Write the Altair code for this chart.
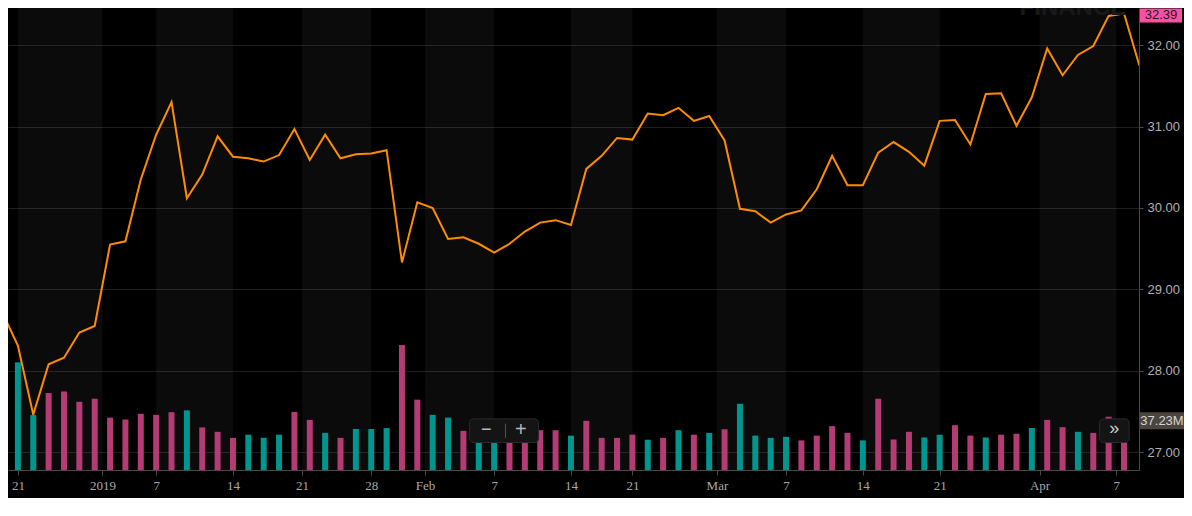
import json
import altair as alt
import pandas as pd

# ---------------- data ----------------
price_idx = list(range(-1, 74))
price = [28.71,
         28.31, 27.46, 28.08, 28.16, 28.47, 28.55, 29.55, 29.59, 30.35, 30.90,
         31.30, 30.12, 30.41, 30.88, 30.63, 30.61, 30.57, 30.65, 30.97, 30.59,
         30.90, 30.61, 30.66, 30.67, 30.71, 29.33, 30.07, 30.00, 29.62, 29.64,
         29.56, 29.45, 29.56, 29.71, 29.82, 29.85, 29.79, 30.48, 30.64, 30.86,
         30.84, 31.16, 31.14, 31.23, 31.07, 31.13, 30.83, 29.99, 29.96, 29.82,
         29.92, 29.97, 30.23, 30.64, 30.28, 30.28, 30.68, 30.81, 30.69, 30.52,
         31.07, 31.08, 30.78, 31.40, 31.41, 31.01, 31.36, 31.96, 31.63, 31.88,
         31.99, 32.36, 32.39, 31.75]

vol_idx = list(range(0, 73))
volume = [81.4, 41.5, 58.2, 59.4, 51.6, 53.9, 39.6, 38.2, 42.5, 41.7,
          43.7, 45.1, 32.2, 28.9, 24.3, 26.7, 24.3, 26.7, 43.9, 37.9,
          28.1, 24.3, 31.0, 31.0, 31.7, 94.5, 53.2, 41.7, 39.6, 29.6,
          26.0, 25.0, 27.0, 29.0, 30.1, 30.1, 26.0, 37.2, 24.3, 24.3,
          26.7, 22.9, 24.3, 30.1, 26.7, 28.1, 30.8, 50.1, 26.0, 24.3,
          25.1, 22.4, 26.0, 33.2, 28.1, 22.4, 53.9, 23.1, 28.9, 24.6,
          26.7, 33.9, 26.0, 24.6, 26.7, 27.4, 31.7, 37.9, 32.4, 28.9,
          28.1, 40.3, 37.23]
direction = list("uuddddddddduddduuudduduuudduudu" "udddduddddudududuuuudddduddduudduddudduddddd")[:73]

tick_pos = [0, 5.5, 9, 14, 18.5, 23, 26.5, 31, 36, 40, 45.5, 50, 55, 60, 66.5, 71.5]
tick_lab = ['21', '2019', '7', '14', '21', '28', 'Feb', '7', '14', '21', 'Mar', '7', '14', '21', 'Apr', '7']
price_ticks = [27, 28, 29, 30, 31, 32]
last_price = [32.39]
last_volume = [37.23]
last_volume_text = ['37.23M']

# ---------------- layout ----------------
W, H = 1131, 462
sx, sy = W / 1147, H / 488

price_df = pd.DataFrame({'i': price_idx, 'p': price})
vol_df = pd.DataFrame({'i': vol_idx, 'v': volume, 'd': direction})
band_df = pd.DataFrame({'s': tick_pos[0::2], 'e': tick_pos[1::2]})
one = pd.DataFrame({'a': [0]})

xscale = alt.Scale(domain=[-0.318, 72.65], nice=False, zero=False)
pscale = alt.Scale(domain=[26.78, 32.457], nice=False, zero=False)
vscale = alt.Scale(domain=[0, 349.4], nice=False, zero=False)

label_expr = f"{json.dumps(tick_lab)}[indexof({json.dumps(tick_pos)}, datum.value)]"
xaxis = alt.Axis(values=tick_pos, labelExpr=label_expr, title=None, grid=False,
                 domainColor='#4a4a4a', tickColor='#4a4a4a', tickSize=5,
                 labelColor='#a8a8a8', labelFont='Liberation Serif', labelFontSize=13,
                 labelPadding=4, labelOverlap=False, labelFlush=False)
yaxis = alt.Axis(values=price_ticks, format='.2f', orient='right', title=None,
                 grid=True, gridColor='#1e1e1e', domainColor='#4a4a4a',
                 tickColor='#4a4a4a', tickSize=4, labelPadding=4,
                 labelColor='#b0b0b0', labelFont='Liberation Sans', labelFontSize=13)

bands = alt.Chart(band_df).mark_rect(color='#ffffff', opacity=0.045).encode(
    x=alt.X('s:Q', scale=xscale, axis=xaxis), x2='e:Q',
    y=alt.value(0), y2=alt.value(H))

line = alt.Chart(price_df).mark_line(color='#ff8c00', strokeWidth=2, clip=True).encode(
    x=alt.X('i:Q', scale=xscale, axis=xaxis),
    y=alt.Y('p:Q', scale=pscale, axis=yaxis))

bars = alt.Chart(vol_df).mark_bar(size=6, clip=True).encode(
    x=alt.X('i:Q', scale=xscale, axis=xaxis),
    y=alt.Y('v:Q', scale=vscale, axis=None),
    color=alt.Color('d:N', scale=alt.Scale(domain=['u', 'd'], range=['#00968f', '#b33c74']), legend=None))

watermark = alt.Chart(one).mark_text(text='FINANCE', font='Liberation Sans', fontWeight='bold',
                                     fontSize=24, color='#191919', baseline='alphabetic').encode(
    x=alt.value(1080 * sx), y=alt.value(7))

# zoom buttons overlay
btn1 = alt.Chart(one).mark_rect(fill='#141414', stroke='#2a2a2a', cornerRadius=4).encode(
    x=alt.value(468 * sx), x2=alt.value(538 * sx), y=alt.value(434 * sy), y2=alt.value(459 * sy))
btn_minus = alt.Chart(one).mark_text(text='\u2212', fontSize=18, color='#b8b8b8').encode(
    x=alt.value(485 * sx), y=alt.value(446 * sy))
btn_sep = alt.Chart(one).mark_rule(color='#555555').encode(
    x=alt.value(504.5 * sx), y=alt.value(439 * sy), y2=alt.value(454 * sy))
btn_plus = alt.Chart(one).mark_text(text='+', fontSize=20, color='#b8b8b8').encode(
    x=alt.value(520 * sx), y=alt.value(446 * sy))
btn2 = alt.Chart(one).mark_rect(fill='#141414', stroke='#2a2a2a', cornerRadius=4).encode(
    x=alt.value(1107 * sx), x2=alt.value(1137 * sx), y=alt.value(434 * sy), y2=alt.value(459 * sy))
btn_more = alt.Chart(one).mark_text(text='\u00bb', fontSize=18, color='#cccccc').encode(
    x=alt.value(1122 * sx), y=alt.value(445 * sy))

# last price label (kept inside the top edge)
lp_df = pd.DataFrame({'p': last_price, 't': [f'{v:.2f}' for v in last_price]})
lp_box = alt.Chart(lp_df).mark_rect(fill='#ff4fa3', yOffset=-5, y2Offset=9).encode(
    x=alt.value(W + 1), x2=alt.value(W + 43),
    y=alt.Y('p:Q', scale=pscale, axis=None), y2='p:Q')
lp_txt = alt.Chart(lp_df).mark_text(font='Liberation Sans', fontSize=13, color='#1a1a1a', dy=2).encode(
    x=alt.value(W + 22), y=alt.Y('p:Q', scale=pscale, axis=None), text='t:N')

# last volume label
lv_df = pd.DataFrame({'v': last_volume, 't': last_volume_text})
lv_box = alt.Chart(lv_df).mark_rect(fill='#4b4540', yOffset=-8.5, y2Offset=8.5).encode(
    x=alt.value(W), x2=alt.value(W + 45),
    y=alt.Y('v:Q', scale=vscale, axis=None), y2='v:Q')
lv_txt = alt.Chart(lv_df).mark_text(font='Liberation Sans', fontSize=13, color='#d6d6d6').encode(
    x=alt.value(W + 23), y=alt.Y('v:Q', scale=vscale, axis=None), text='t:N')

chart = alt.layer(
    bands, line, bars, watermark,
    btn1, btn_minus, btn_sep, btn_plus, btn2, btn_more,
    lp_box, lp_txt, lv_box, lv_txt
).resolve_scale(y='independent').properties(
    width=W, height=H,
    autosize=alt.AutoSizeParams(type='none'),
    padding={'left': 0, 'top': 0, 'right': 45, 'bottom': 28}
).configure(background='#000000').configure_view(strokeWidth=0)

chart.save("out.html", embed_options={"renderer": "svg", "actions": False})
